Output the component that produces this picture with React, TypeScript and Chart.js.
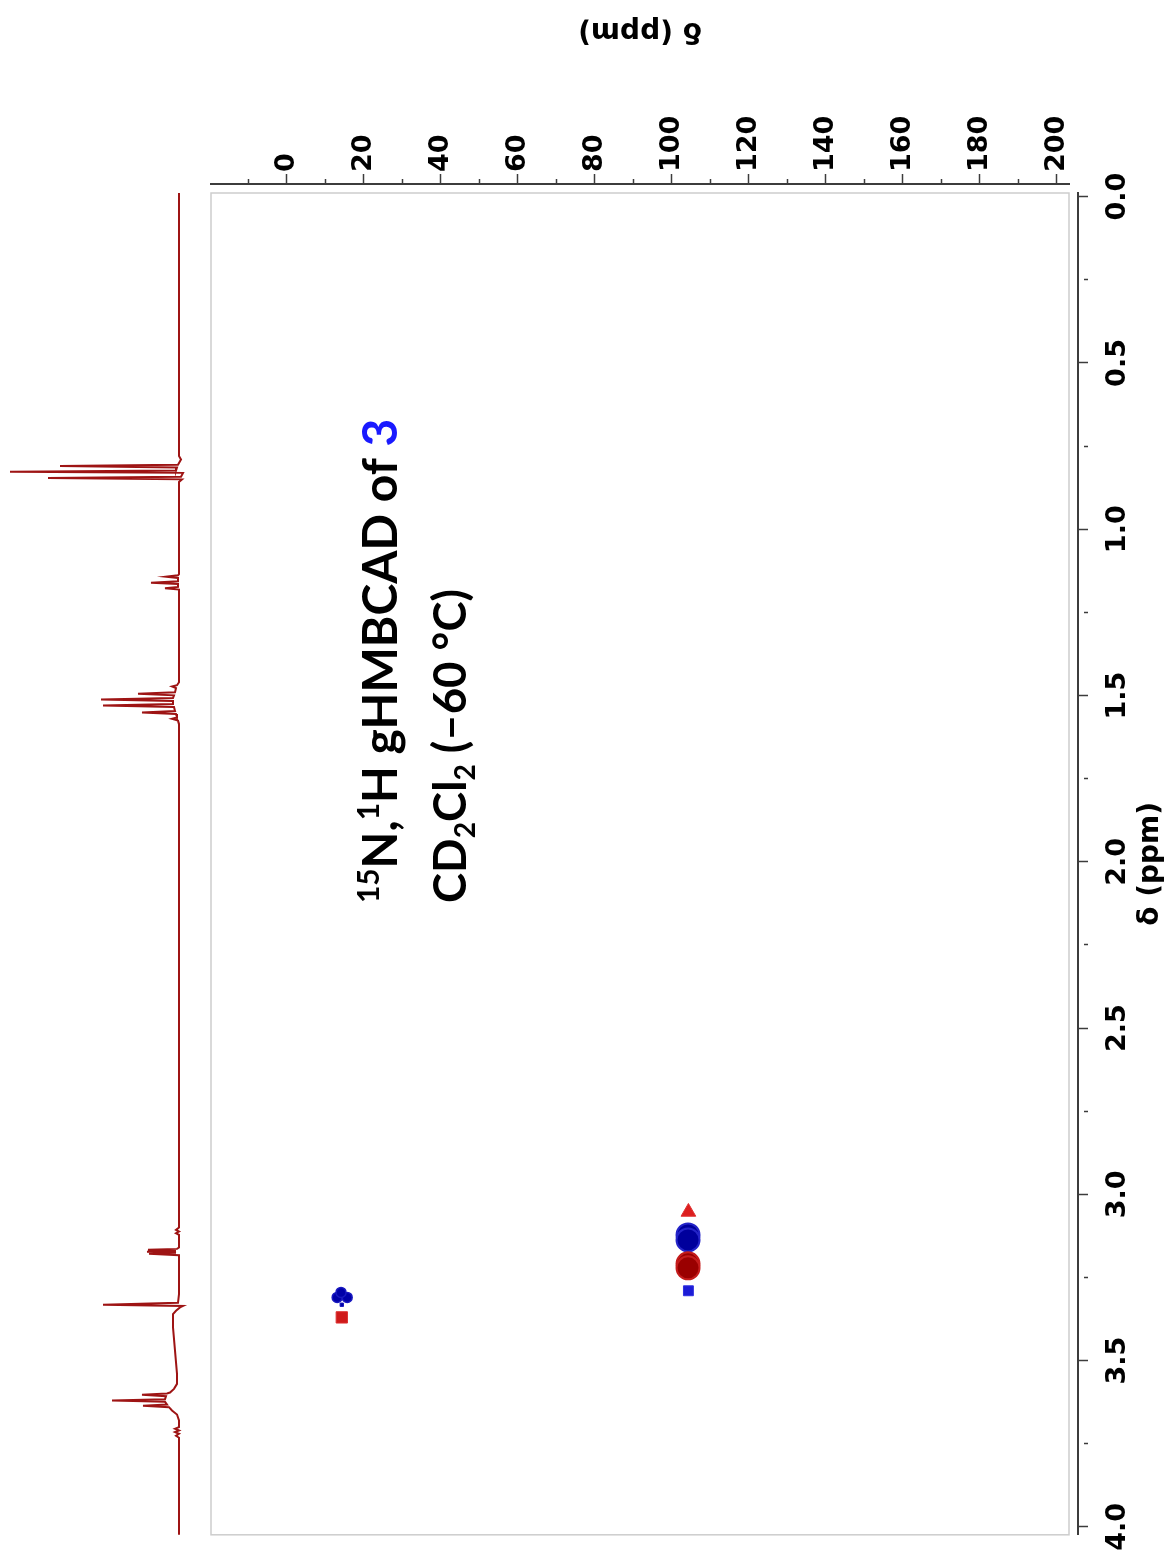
import { useEffect, useRef } from 'react';
import { Chart, registerables } from 'chart.js';

Chart.register(...registerables);

// ---- axis ticks ----
const nTicks = [-10, 0, 10, 20, 30, 40, 50, 60, 70, 80, 90, 100, 110, 120, 130, 140, 150, 160, 170, 180, 190, 200];
const hTicks = [0, 0.25, 0.5, 0.75, 1, 1.25, 1.5, 1.75, 2, 2.25, 2.5, 2.75, 3, 3.25, 3.5, 3.75, 4];
const axisTitleText = 'δ (ppm)';

// ---- 1H trace (ppm, intensity) ----
const traceH = [
  -0.011, 0.2, 0.5, 0.7, 0.78, 0.79, 0.806, 0.81, 0.814, 0.8235, 0.827, 0.8305, 0.842, 0.846, 0.85, 0.858,
  1.135, 1.1385, 1.1425, 1.1465, 1.1565, 1.1606, 1.1646, 1.1734, 1.1774, 1.1814, 1.19,
  1.46, 1.469, 1.473, 1.478, 1.4905, 1.495, 1.4995, 1.5075, 1.512, 1.5165, 1.5255, 1.53, 1.5345, 1.5465, 1.551, 1.5555, 1.566, 1.57, 1.575, 1.585,
  2.5, 3.0, 3.1, 3.107, 3.112, 3.117, 3.122, 3.16, 3.164, 3.167, 3.17, 3.173, 3.176, 3.179, 3.183,
  3.3, 3.326, 3.332, 3.3355, 3.34, 3.35, 3.36, 3.4, 3.47, 3.54, 3.57, 3.585, 3.596, 3.599, 3.603, 3.607, 3.616, 3.62, 3.624, 3.632, 3.636, 3.64, 3.65, 3.662, 3.68,
  3.7, 3.705, 3.71, 3.715, 3.72, 3.726, 3.732, 3.8, 4.024,
];
const traceI = [
  0, 0, 0, 0, 0, -2, 1, 119, 2, 3, 169, -4, -2, 131, -3, 0,
  0, 1, 13, 1, 1, 28, 1, 1, 14, 0, 0,
  0, 2, 7, 3, 4, 41, 5, 6, 78, 6, 6, 76, 5, 4, 37, 3, 2, 7, 1, 0,
  0, 0, 0, 3, 0, 3, 0, 0, 2, 31, 3, 32, 3, 30, 0,
  0, 1, 76, -4, -1, 3, 6, 6, 4, 2, 2, 5, 9, 12, 37, 13, 14, 67, 14, 12, 36, 10, 7, 2, 0,
  0, 4, 0, 4, 0, 3, 0, 0, 0,
];

// ---- 15N,1H cross peaks (N ppm, H ppm) ----
const blueN = [104.2, 104.2, 104.3, 13.1, 15.7, 14.1, 14.3];
const blueH = [3.122, 3.137, 3.29, 3.31, 3.31, 3.295, 3.332];
const redN = [104.3, 104.2, 104.2, 14.3];
const redH = [3.053, 3.209, 3.221, 3.37];

// ---- annotation text ----
const line1Segs = [
  { t: '15', k: 'sup' },
  { t: 'N,', k: 'n' },
  { t: '1', k: 'sup' },
  { t: 'H gHMBCAD of ', k: 'n' },
  { t: '3', k: 'n', c: '#1a1aff' },
];
const line2Segs = [
  { t: 'CD', k: 'n' },
  { t: '2', k: 'sub' },
  { t: 'Cl', k: 'n' },
  { t: '2', k: 'sub' },
  { t: ' (–60 °C)', k: 'n' },
];

const TICK_FONT = { family: 'DejaVu Sans', weight: 'bold' as const, size: 27, lineHeight: 0.001 };
const AXIS_COLOR = '#3c3c3c';

function drawRich(ctx: CanvasRenderingContext2D, x: number, y: number, segs: any[], size: number, family: string) {
  ctx.save();
  ctx.translate(x, y);
  ctx.rotate(-Math.PI / 2);
  ctx.textAlign = 'left';
  ctx.textBaseline = 'alphabetic';
  let cx = 0;
  for (const s of segs) {
    const fs = s.k === 'n' ? size : size * 0.62;
    ctx.font = `bold ${fs}px ${family}`;
    const dy = s.k === 'sup' ? -size * 0.38 : s.k === 'sub' ? size * 0.2 : 0;
    ctx.fillStyle = s.c || '#000';
    ctx.fillText(s.t, cx, dy);
    cx += ctx.measureText(s.t).width;
  }
  ctx.restore();
}

export default function App() {
  const ref = useRef<HTMLCanvasElement>(null);

  useEffect(() => {
    if (!ref.current) return;

    const minorDash = (c: any) => {
      const v = c.tick ? c.tick.value : 0;
      return c.scale.axis === 'x' ? (v % 20 === 0 ? [] : [5, 5]) : (Math.abs(v * 2 - Math.round(v * 2)) < 1e-6 ? [] : [5, 5]);
    };

    const decorPlugin = {
      id: 'decor',
      beforeDatasetsDraw(chart: any) {
        const { ctx, chartArea } = chart;
        ctx.save();
        ctx.strokeStyle = '#cdcdcd';
        ctx.lineWidth = 1.5;
        ctx.strokeRect(chartArea.left, chartArea.top, chartArea.right - chartArea.left, chartArea.bottom - chartArea.top);
        ctx.restore();
      },
      afterDraw(chart: any) {
        const { ctx } = chart;
        const xs = chart.scales.x;
        const ys = chart.scales.y;
        ctx.save();
        ctx.fillStyle = '#000';
        ctx.font = 'bold 28px "DejaVu Sans"';
        ctx.textAlign = 'center';
        ctx.textBaseline = 'middle';
        // top axis title (upside down)
        ctx.save();
        ctx.translate((xs.left + xs.right) / 2, 30);
        ctx.rotate(Math.PI);
        ctx.fillText(axisTitleText, 0, 0);
        ctx.restore();
        // right axis title
        ctx.save();
        ctx.translate(1151, (ys.top + ys.bottom) / 2);
        ctx.rotate(-Math.PI / 2);
        ctx.fillText(axisTitleText, 0, 0);
        ctx.restore();
        ctx.restore();
        // annotation
        const startY = ys.getPixelForValue(2.124);
        drawRich(ctx, xs.getPixelForValue(28.6), startY, line1Segs, 48, 'Lato');
        drawRich(ctx, xs.getPixelForValue(46.6), startY, line2Segs, 45.5, 'Lato');
      },
    };

    const chart = new Chart(ref.current, {
      type: 'scatter',
      data: {
        datasets: [
          {
            type: 'line',
            indexAxis: 'y',
            xAxisID: 'xT',
            yAxisID: 'y',
            data: traceH.map((h, i) => ({ x: traceI[i], y: h })),
            borderColor: '#9e1414',
            borderWidth: 2,
            pointRadius: 0,
            tension: 0,
            clip: false,
          } as any,
          {
            xAxisID: 'x',
            yAxisID: 'y',
            data: redN.map((n, i) => ({ x: n, y: redH[i] })),
            pointStyle: ['triangle', 'circle', 'circle', 'rect'],
            pointRadius: [8.5, 11.5, 11.5, 8],
            pointBackgroundColor: ['#dc1e1e', '#9a0000', '#9a0000', '#cf1a1a'],
            pointBorderColor: ['#e03030', '#c41c1c', '#c41c1c', '#dd3030'],
            pointBorderWidth: [1, 2, 2, 1],
          },
          {
            xAxisID: 'x',
            yAxisID: 'y',
            data: blueN.map((n, i) => ({ x: n, y: blueH[i] })),
            pointStyle: ['circle', 'circle', 'rect', 'circle', 'circle', 'circle', 'rect'],
            pointRadius: [11.5, 11.5, 7, 5, 5, 5, 2.4],
            pointBackgroundColor: ['#00009c', '#00009c', '#1c1cd6', '#0000a8', '#0000a8', '#0000a8', '#0000a8'],
            pointBorderColor: ['#2424c8', '#2424c8', '#3030e0', '#1818c0', '#1818c0', '#1818c0', '#1818c0'],
            pointBorderWidth: [2, 2, 1, 1.5, 1.5, 1.5, 1],
          },
        ],
      },
      options: {
        animation: false,
        responsive: true,
        maintainAspectRatio: false,
        layout: { padding: { left: 211, right: 0, top: 0, bottom: 22 } },
        plugins: { legend: { display: false }, tooltip: { enabled: false } },
        events: [],
        scales: {
          x: {
            type: 'linear',
            position: 'top',
            weight: 2,
            min: -19.66,
            max: 203.12,
            afterBuildTicks: (s: any) => {
              s.ticks = nTicks.map((v) => ({ value: v }));
            },
            afterFit: (s: any) => {
              s.height = 184;
            },
            ticks: {
              autoSkip: false,
              minRotation: 90,
              maxRotation: 90,
              padding: 2,
              color: '#000',
              font: TICK_FONT,
              callback: (v: any) => (v % 20 === 0 && v >= 0 ? String(v) : ''),
            },
            grid: {
              drawOnChartArea: false,
              tickLength: 10,
              tickColor: AXIS_COLOR,
              tickWidth: 1.5,
              tickBorderDash: minorDash,
              tickBorderDashOffset: 5,
            },
            border: { display: true, color: AXIS_COLOR, width: 2 },
          },
          xSp: {
            type: 'linear',
            position: 'top',
            weight: 0,
            ticks: { display: false },
            grid: { display: false, drawTicks: false },
            border: { display: false },
            afterFit: (s: any) => {
              s.height = 9;
            },
          },
          xT: {
            type: 'linear',
            position: 'top',
            display: false,
            reverse: true,
            min: -890,
            max: -32,
          },
          y: {
            type: 'linear',
            position: 'right',
            weight: 2,
            reverse: true,
            min: -0.0111,
            max: 4.0238,
            afterBuildTicks: (s: any) => {
              s.ticks = hTicks.map((v) => ({ value: v }));
            },
            afterFit: (s: any) => {
              s.width = 96;
            },
            ticks: {
              autoSkip: false,
              minRotation: 90,
              maxRotation: 90,
              crossAlign: 'center',
              padding: 6,
              color: '#000',
              font: { family: 'DejaVu Sans', weight: 'bold', size: 27 },
              callback: (v: any) => (Math.abs(v * 2 - Math.round(v * 2)) < 1e-6 ? Number(v).toFixed(1) : ''),
            },
            grid: {
              drawOnChartArea: false,
              tickLength: 10,
              tickColor: AXIS_COLOR,
              tickWidth: 1.5,
              tickBorderDash: minorDash,
              tickBorderDashOffset: 5,
            },
            border: { display: true, color: AXIS_COLOR, width: 2 },
          },
          ySp: {
            type: 'linear',
            position: 'right',
            weight: 0,
            ticks: { display: false },
            grid: { display: false, drawTicks: false },
            border: { display: false },
            afterFit: (s: any) => {
              s.width = 9;
            },
          },
        },
      } as any,
      plugins: [decorPlugin],
    });

    return () => chart.destroy();
  }, []);

  return (
    <div style={{ position: 'absolute', left: 0, top: 0, width: 1174, height: 1557, background: '#fff' }}>
      <canvas ref={ref} />
    </div>
  );
}
